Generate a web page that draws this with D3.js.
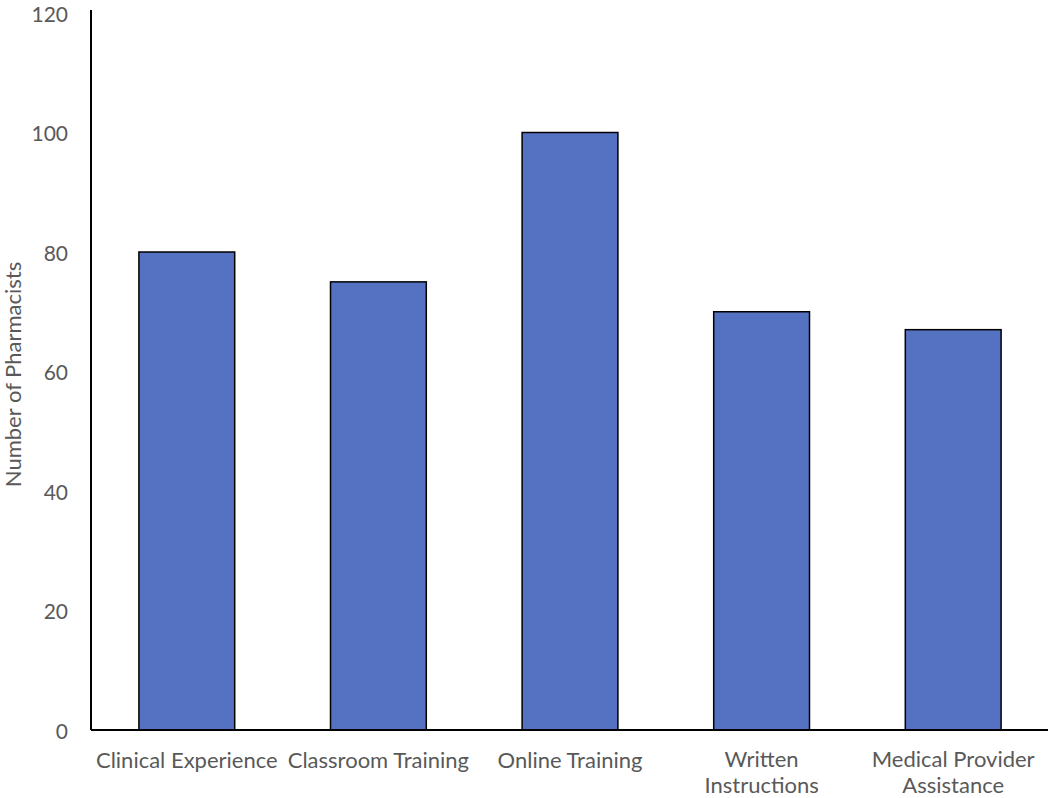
<!DOCTYPE html>
<html>
<head>
	<meta charset="utf-8">
	<script src="https://d3js.org/d3.v7.min.js"></script>
	<style>
		body { margin: 0; background: #fff; }
		text { font-family: Lato, "Open Sans", sans-serif; fill: #595959; }
	</style>
</head>
<body>
	<div id="chart"></div>
	<script>
		// data
		var categories = ["Clinical Experience", "Classroom Training", "Online Training", "Written Instructions", "Medical Provider Assistance"];
		var counts = [80, 75, 100, 70, 67];
		var yTicks = [0, 20, 40, 60, 80, 100, 120];

		var width = 1050, height = 798;
		var margin = {left: 91, right: 1, top: 13, bottom: 68};

		var svg = d3.select("#chart").append("svg")
			.attr("width", width)
			.attr("height", height);

		var x = d3.scaleBand()
			.domain(categories)
			.range([margin.left, width - margin.right])
			.paddingInner(0.5)
			.paddingOuter(0.25);

		var y = d3.scaleLinear()
			.domain([0, 120])
			.range([height - margin.bottom, margin.top]);

		// bars
		svg.selectAll("rect.bar")
			.data(categories)
			.enter().append("rect")
			.attr("class", "bar")
			.attr("x", function(d) { return x(d); })
			.attr("y", function(d, i) { return y(counts[i]); })
			.attr("width", x.bandwidth())
			.attr("height", function(d, i) { return y(0) - y(counts[i]); })
			.attr("fill", "#5571C1")
			.attr("stroke", "#000")
			.attr("stroke-width", 1.5);

		// y axis
		var yAxis = svg.append("g")
			.attr("transform", "translate(" + margin.left + ",0)")
			.call(d3.axisLeft(y).tickValues(yTicks).tickSize(0).tickPadding(23));
		yAxis.select(".domain").attr("stroke", "#000").attr("stroke-width", 2)
			.attr("d", "M0," + (margin.top - 3) + "V" + y(0));
		yAxis.selectAll("text").style("font-size", "21px").attr("fill", "#595959")
			.attr("dy", "0.4em");

		// x axis
		var xAxis = svg.append("g")
			.attr("transform", "translate(0," + y(0) + ")")
			.call(d3.axisBottom(x).tickSize(0).tickPadding(0));
		xAxis.select(".domain").attr("stroke", "#000").attr("stroke-width", 2)
			.attr("d", "M" + margin.left + ",0H" + (width - 2));
		xAxis.selectAll("text").style("font-size", "22px").attr("fill", "#595959")
			.attr("dy", null).attr("y", 38)
			.call(wrap, 184);

		// y title
		svg.append("text")
			.attr("transform", "translate(21," + ((y(0) + margin.top) / 2 + 3) + ") rotate(-90)")
			.attr("text-anchor", "middle")
			.style("font-size", "22px")
			.text("Number of Pharmacists");

		function wrap(texts, w) {
			texts.each(function() {
				var t = d3.select(this);
				var words = t.text().split(" ");
				if (this.getComputedTextLength() <= w) return;
				t.text(null);
				var lines = [], cur = [];
				var probe = t.append("tspan");
				words.forEach(function(wd) {
					cur.push(wd);
					probe.text(cur.join(" "));
					if (probe.node().getComputedTextLength() > w && cur.length > 1) {
						cur.pop();
						lines.push(cur.join(" "));
						cur = [wd];
					}
				});
				lines.push(cur.join(" "));
				probe.remove();
				lines.forEach(function(l, i) {
					t.append("tspan").attr("x", 0).attr("y", 37 + i * 26).text(l);
				});
			});
		}
	</script>
</body>
</html>
